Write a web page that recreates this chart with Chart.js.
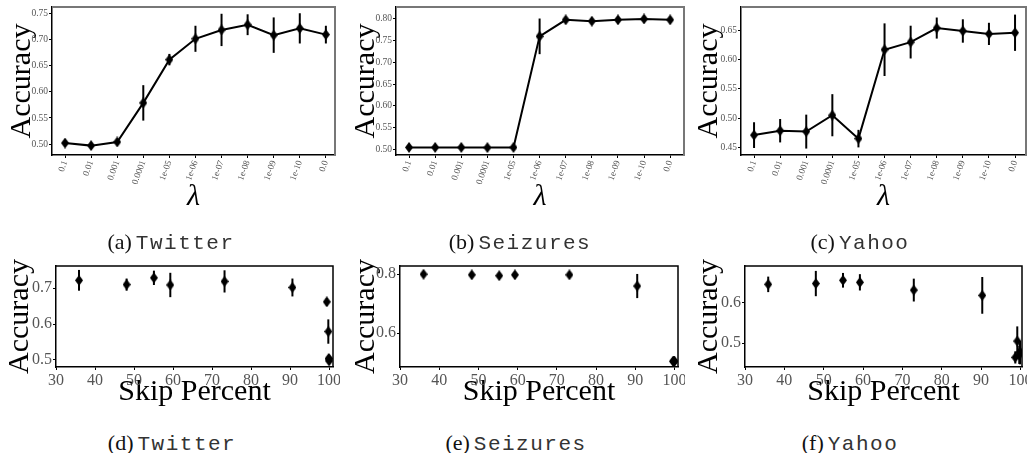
<!DOCTYPE html>
<html>
<head>
<meta charset="utf-8">
<script src="https://cdn.jsdelivr.net/npm/chart.js@4.4.1/dist/chart.umd.min.js"></script>
<style>
  html, body { margin: 0; padding: 0; background: #fff; }
  body { width: 1027px; height: 453px; position: relative; overflow: hidden; }
  canvas { position: absolute; }
  .cap { position: absolute; width: 300px; text-align: center; line-height: 22px; white-space: nowrap; color: #111; }
  .cap .lab { font-family: "Liberation Serif", serif; font-size: 22px; }
  .cap .name { font-family: "Liberation Mono", monospace; font-size: 21px; letter-spacing: 1.5px; color: #333; }
</style>
</head>
<body>
<canvas id="chA" width="340" height="230" style="left:0;top:0"></canvas>
<canvas id="chB" width="345" height="230" style="left:340px;top:0"></canvas>
<canvas id="chC" width="342" height="230" style="left:685px;top:0"></canvas>
<canvas id="chD" width="340" height="180" style="left:0;top:250px"></canvas>
<canvas id="chE" width="342" height="180" style="left:340px;top:250px"></canvas>
<canvas id="chF" width="343" height="180" style="left:684px;top:250px"></canvas>

<div class="cap" style="left:21px;top:231px"><span class="lab">(a)</span> <span class="name">Twitter</span></div>
<div class="cap" style="left:370px;top:231px"><span class="lab">(b)</span> <span class="name">Seizures</span></div>
<div class="cap" style="left:710px;top:231px"><span class="lab">(c)</span> <span class="name">Yahoo</span></div>
<div class="cap" style="left:22px;top:432px"><span class="lab">(d)</span> <span class="name">Twitter</span></div>
<div class="cap" style="left:366px;top:432px"><span class="lab">(e)</span> <span class="name">Seizures</span></div>
<div class="cap" style="left:700px;top:432px"><span class="lab">(f)</span> <span class="name">Yahoo</span></div>

<script>
// lambda values on the x axis of the top row
const lambdas = ["0.1", "0.01", "0.001", "0.0001", "1e-05", "1e-06", "1e-07", "1e-08", "1e-09", "1e-10", "0.0"];

// Twitter
const twitterAcc  = [0.502, 0.497, 0.504, 0.579, 0.662, 0.702, 0.719, 0.729, 0.709, 0.722, 0.710];
const twitterErr  = [0.006, 0.006, 0.006, 0.034, 0.011, 0.025, 0.031, 0.020, 0.034, 0.029, 0.017];
const twitterSkip = [100.0, 100.0, 99.9, 99.8, 99.4, 90.6, 73.2, 55.1, 59.3, 35.9, 48.1];

// Seizures
const seizuresAcc  = [0.5045, 0.5045, 0.5045, 0.504, 0.5045, 0.760, 0.798, 0.795, 0.798, 0.800, 0.798];
const seizuresErr  = [0.004, 0.004, 0.004, 0.004, 0.004, 0.041, 0.004, 0.004, 0.004, 0.004, 0.004];
const seizuresSkip = [99.9, 99.9, 99.9, 99.9, 99.6, 90.5, 73.2, 55.3, 59.3, 36.0, 48.3];

// Yahoo
const yahooAcc  = [0.471, 0.4785, 0.477, 0.505, 0.465, 0.617, 0.630, 0.654, 0.649, 0.644, 0.646];
const yahooErr  = [0.022, 0.020, 0.029, 0.036, 0.015, 0.045, 0.028, 0.018, 0.020, 0.019, 0.031];
const yahooSkip = [99.7, 99.9, 99.9, 99.2, 98.7, 90.3, 72.9, 54.9, 59.2, 35.9, 48.0];

// tick labels
const lambdaTicks   = [0, 1, 2, 3, 4, 5, 6, 7, 8, 9, 10];
const twitterYTicks = [0.50, 0.55, 0.60, 0.65, 0.70, 0.75];
const seizuresYTicks = [0.50, 0.55, 0.60, 0.65, 0.70, 0.75, 0.80];
const yahooYTicks   = [0.45, 0.50, 0.55, 0.60, 0.65];
const skipTicks     = [30, 40, 50, 60, 70, 80, 90, 100];
const twitterSkipYTicks  = [0.5, 0.6, 0.7];
const seizuresSkipYTicks = [0.6, 0.8];
const yahooSkipYTicks    = [0.5, 0.6];

const SERIF = "'Liberation Serif', 'DejaVu Serif', serif";
const TICK_GRAY = "#555";

// thin diamond marker ("d" in matplotlib)
function diamond() {
    const c = document.createElement("canvas");
    c.width = 8; c.height = 11;
    const g = c.getContext("2d");
    g.fillStyle = "#000";
    g.beginPath();
    g.moveTo(4, 0); g.lineTo(8, 5.5); g.lineTo(4, 11); g.lineTo(0, 5.5);
    g.closePath();
    g.fill();
    return c;
}
const marker = diamond();

// vertical error bars, drawn under the markers
const errorBars = {
    id: "errorBars",
    beforeDatasetsDraw(chart) {
        const errs = chart.options.plugins.errorBars.errs;
        const meta = chart.getDatasetMeta(0);
        const ys = chart.scales.y;
        const ds = chart.data.datasets[0].data;
        const ctx = chart.ctx;
        ctx.save();
        ctx.strokeStyle = "#000";
        ctx.lineWidth = 2;
        meta.data.forEach((pt, i) => {
            const v = ds[i].y;
            ctx.beginPath();
            ctx.moveTo(pt.x, ys.getPixelForValue(v + errs[i]));
            ctx.lineTo(pt.x, ys.getPixelForValue(v - errs[i]));
            ctx.stroke();
        });
        ctx.restore();
    }
};

// top and right spines
const frame = {
    id: "frame",
    afterDraw(chart) {
        const a = chart.chartArea;
        const o = chart.options.plugins.frame;
        const ctx = chart.ctx;
        ctx.save();
        ctx.strokeStyle = o.color;
        ctx.lineWidth = o.width;
        ctx.beginPath();
        ctx.moveTo(a.left, a.top);
        ctx.lineTo(a.right, a.top);
        ctx.lineTo(a.right, a.bottom);
        ctx.stroke();
        ctx.restore();
    }
};

function fixSize(prop, val) {
    return function (scale) {
        scale[prop] = val;
        scale.paddingLeft = 0; scale.paddingRight = 0;
        scale.paddingTop = 0; scale.paddingBottom = 0;
    };
}

function makeChart(id, cfg) {
    const pts = cfg.xs.map((x, i) => ({ x: x, y: cfg.ys[i] }));
    const chart = new Chart(document.getElementById(id), {
        type: "line",
        data: {
            datasets: [{
                data: pts,
                showLine: cfg.line,
                borderColor: "#000",
                borderWidth: 2,
                tension: 0,
                pointStyle: marker,
                pointRadius: 5,
                backgroundColor: "#000"
            }]
        },
        options: {
            responsive: false,
            maintainAspectRatio: false,
            animation: false,
            events: [],
            layout: { padding: { top: cfg.padTop, right: 0, left: 0, bottom: 0 } },
            plugins: {
                legend: { display: false },
                tooltip: { enabled: false },
                errorBars: { errs: cfg.errs },
                frame: { color: cfg.frameColor, width: cfg.frameWidth }
            },
            scales: {
                x: {
                    type: "linear",
                    min: cfg.xMin,
                    max: cfg.xMax,
                    afterBuildTicks: (s) => { s.ticks = cfg.xTicks.map(v => ({ value: v })); },
                    afterFit: fixSize("height", cfg.xHeight),
                    grid: { drawOnChartArea: false, tickLength: 3, color: "#000", lineWidth: 1 },
                    border: { color: "#000", width: 1.5 },
                    ticks: {
                        color: TICK_GRAY,
                        font: { family: SERIF, size: cfg.xTickSize },
                        padding: 1,
                        minRotation: cfg.rot,
                        maxRotation: cfg.rot,
                        autoSkip: false,
                        callback: cfg.xLabel
                    },
                    title: {
                        display: true,
                        text: cfg.xTitle,
                        color: "#000",
                        font: { family: SERIF, size: cfg.xTitleSize, style: cfg.xTitleStyle, lineHeight: 1 },
                        padding: { top: 0, bottom: cfg.xTitlePad }
                    }
                },
                y: {
                    type: "linear",
                    min: cfg.yMin,
                    max: cfg.yMax,
                    afterBuildTicks: (s) => { s.ticks = cfg.yTicks.map(v => ({ value: v })); },
                    afterFit: fixSize("width", cfg.yWidth),
                    grid: { drawOnChartArea: false, tickLength: 3, color: "#000", lineWidth: 1 },
                    border: { color: "#000", width: 1.5 },
                    ticks: {
                        color: TICK_GRAY,
                        font: { family: SERIF, size: cfg.yTickSize },
                        padding: 1,
                        callback: (v) => v.toFixed(cfg.yDec)
                    },
                    title: {
                        display: true,
                        text: "Accuracy",
                        color: "#000",
                        font: { family: SERIF, size: 30, lineHeight: 1 },
                        padding: { top: cfg.yTitlePad, bottom: 0 }
                    }
                }
            }
        },
        plugins: [errorBars, frame]
    });
    // tick label padding eats into the right side; grow the canvas until the plot edge lands where wanted
    for (let k = 0; k < 3; k++) {
        const dr = cfg.right - chart.chartArea.right;
        if (Math.abs(dr) < 0.5) break;
        chart.resize(chart.width + dr, chart.height);
    }
    return chart;
}

const topRow = {
    line: true, xs: lambdaTicks, xTicks: lambdaTicks, xMin: -0.5,
    xLabel: (v) => lambdas[v], rot: 70, xTickSize: 9, xTitle: "λ", xTitleSize: 30,
    xTitleStyle: "italic", xTitlePad: 18, xHeight: 75, padTop: 6,
    yTickSize: 9.5, yDec: 2, frameColor: "#777", frameWidth: 2
};
const botRow = {
    line: false, xTicks: skipTicks, xMin: 30,
    xLabel: (v) => String(v), rot: 0, xTickSize: 16, xTitle: "Skip Percent", xTitleSize: 30,
    xTitleStyle: "normal", xTitlePad: 23, xHeight: 63, padTop: 16,
    yTickSize: 16, yDec: 1, frameColor: "#000", frameWidth: 1.5
};

// "right" is the wanted plot edge inside each canvas
makeChart("chA", Object.assign({}, topRow, {
    ys: twitterAcc, errs: twitterErr, xMax: 10.35, yMin: 0.479, yMax: 0.763,
    yTicks: twitterYTicks, yWidth: 52, right: 335, yTitlePad: 7
}));
makeChart("chB", Object.assign({}, topRow, {
    ys: seizuresAcc, errs: seizuresErr, xMax: 10.53, yMin: 0.487, yMax: 0.8275,
    yTicks: seizuresYTicks, yWidth: 56, right: 344, yTitlePad: 11
}));
makeChart("chC", Object.assign({}, topRow, {
    ys: yahooAcc, errs: yahooErr, xMax: 10.42, yMin: 0.437, yMax: 0.690,
    yTicks: yahooYTicks, yWidth: 56, right: 341, yTitlePad: 9
}));
makeChart("chD", Object.assign({}, botRow, {
    xs: twitterSkip, ys: twitterAcc, errs: twitterErr, xMax: 101, yMin: 0.48, yMax: 0.762,
    yTicks: twitterSkipYTicks, yWidth: 56, right: 333, yTitlePad: 5
}));
makeChart("chE", Object.assign({}, botRow, {
    xs: seizuresSkip, ys: seizuresAcc, errs: seizuresErr, xMax: 100.9, yMin: 0.485, yMax: 0.828,
    yTicks: seizuresSkipYTicks, yWidth: 60, right: 338, yTitlePad: 11
}));
makeChart("chF", Object.assign({}, botRow, {
    xs: yahooSkip, ys: yahooAcc, errs: yahooErr, xMax: 100.4, yMin: 0.4415, yMax: 0.689,
    yTicks: yahooSkipYTicks, yWidth: 61, right: 338, yTitlePad: 10
}));
</script>
</body>
</html>
